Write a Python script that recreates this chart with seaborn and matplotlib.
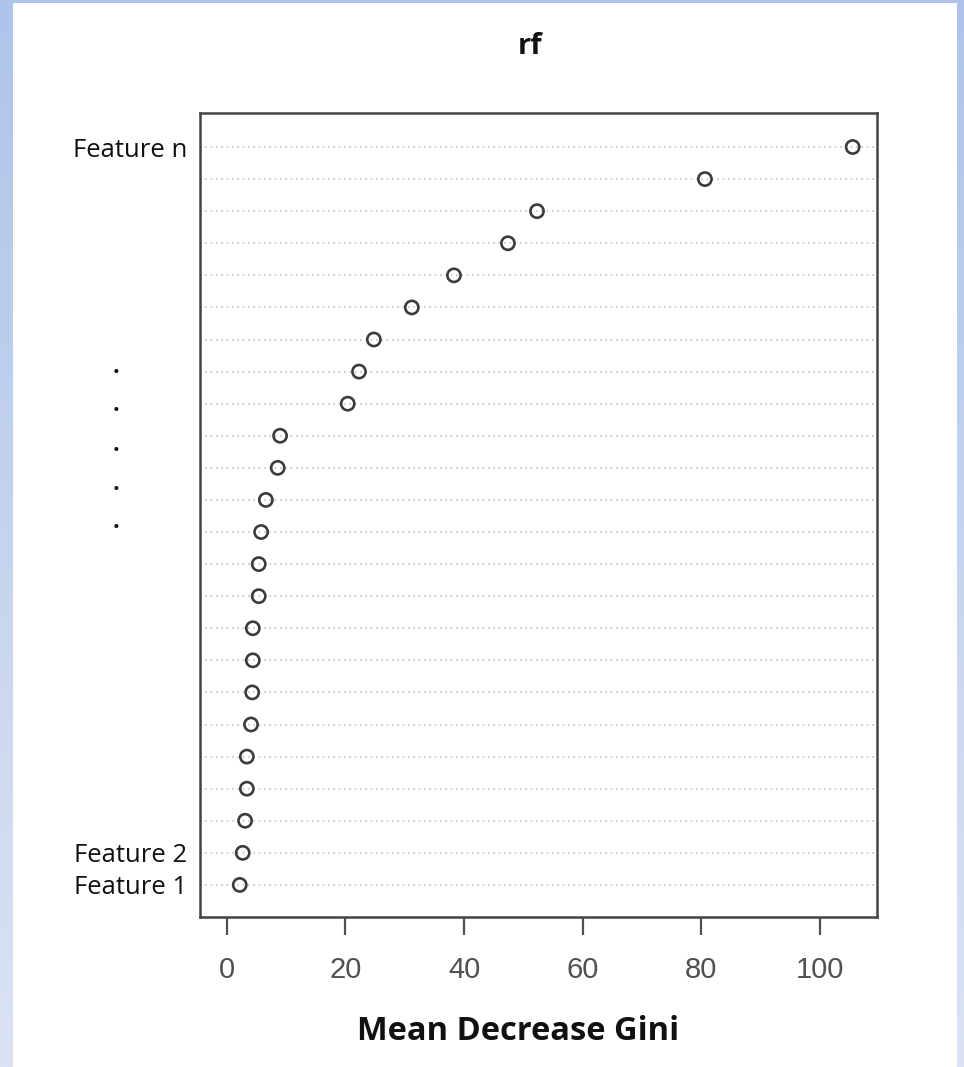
import numpy as np
import pandas as pd
import matplotlib
matplotlib.use("Agg")
import matplotlib.pyplot as plt
import matplotlib.transforms as mtransforms
import seaborn as sns

# Variable importance from the random forest, listed bottom (Feature 1) to top (Feature n)
features = [f"Feature {i}" for i in range(1, 24)] + ["Feature n"]
importance = [2.2, 2.7, 3.1, 3.4, 3.4, 4.1, 4.3, 4.4, 4.4, 5.4, 5.4, 5.8, 6.6,
              8.6, 9.0, 20.4, 22.3, 24.8, 31.2, 38.3, 47.4, 52.3, 80.6, 105.5]
shown_labels = {"Feature 1", "Feature 2", "Feature n"}
x_ticks = [0, 20, 40, 60, 80, 100]
title = "rf"
x_label = "Mean Decrease Gini"

df = pd.DataFrame({"feature": features, "importance": importance})
df["row"] = np.arange(1, len(df) + 1)

sns.set_theme(style="white")
plt.rcParams["font.family"] = ["Open Sans", "DejaVu Sans"]

W, H = 964, 1067
fig = plt.figure(figsize=(W / 100, H / 100), dpi=100)

# Blue gradient frame behind a white page
bg = fig.add_axes([0, 0, 1, 1], zorder=-10)
top_rgb = np.array([174, 196, 234]) / 255
bot_rgb = np.array([219, 227, 243]) / 255
t = np.linspace(0, 1, 256)[:, None]
grad = (top_rgb[None, :] * (1 - t) + bot_rgb[None, :] * t)[:, None, :]
bg.imshow(grad, aspect="auto", extent=[0, 1, 0, 1], origin="upper")
bg.add_patch(plt.Rectangle((13 / W, 0), (957 - 13) / W, 1 - 3 / H,
                           facecolor="white", edgecolor="none"))
bg.set_xlim(0, 1)
bg.set_ylim(0, 1)
bg.axis("off")

ax = fig.add_axes([200 / W, 1 - 917 / H, (877 - 200) / W, (917 - 113) / H])
ax.set_facecolor("white")

# Dotted guide line for every feature row
for r in df["row"]:
    ax.axhline(r, color="#c4c4c4", linestyle=(0, (1, 2.2)), linewidth=1.2, zorder=1)

sns.scatterplot(data=df, x="importance", y="row", ax=ax, s=90,
                facecolor="none", edgecolor="#3c3c3c", linewidth=1.9,
                marker="o", zorder=3, legend=False)

ax.set_xlim(-4.5, 109.6)
ax.set_ylim(0, 25.06)

ax.set_xticks(x_ticks)
ax.set_xticklabels([str(v) for v in x_ticks],
                   family=["Liberation Sans Narrow", "Liberation Sans", "DejaVu Sans"],
                   fontsize=21, color="#505050")
ax.tick_params(axis="x", direction="out", length=13, width=1.6, color="#505050",
               pad=15, bottom=True)

ax.set_yticks(df["row"])
ax.set_yticklabels([f if f in shown_labels else "" for f in df["feature"]],
                   fontsize=18.5, color="#111111")
ax.tick_params(axis="y", length=0, pad=9)

for spine in ax.spines.values():
    spine.set_visible(True)
    spine.set_color("#444444")
    spine.set_linewidth(1.8)

ax.set_xlabel(x_label, fontsize=23.5, fontweight="bold", color="#111111", va="center")
ax.xaxis.set_label_coords((518 - 200) / (877 - 200), (917 - 1032) / (917 - 113))
ax.set_ylabel("")

fig.text(530 / W, 1 - 46 / H, title, fontsize=21, fontweight="bold",
         color="#111111", ha="center", va="center")

# Vertical ellipsis in the label column for the unlabelled features
trans = mtransforms.blended_transform_factory(fig.transFigure, ax.transData)
for yv in [16.77, 15.58, 14.34, 13.12, 11.94]:
    ax.text(116 / W, yv, ".", transform=trans, ha="center", va="bottom",
            fontsize=17, fontweight="bold", color="#111111")

fig.savefig("out.png", dpi=100)
